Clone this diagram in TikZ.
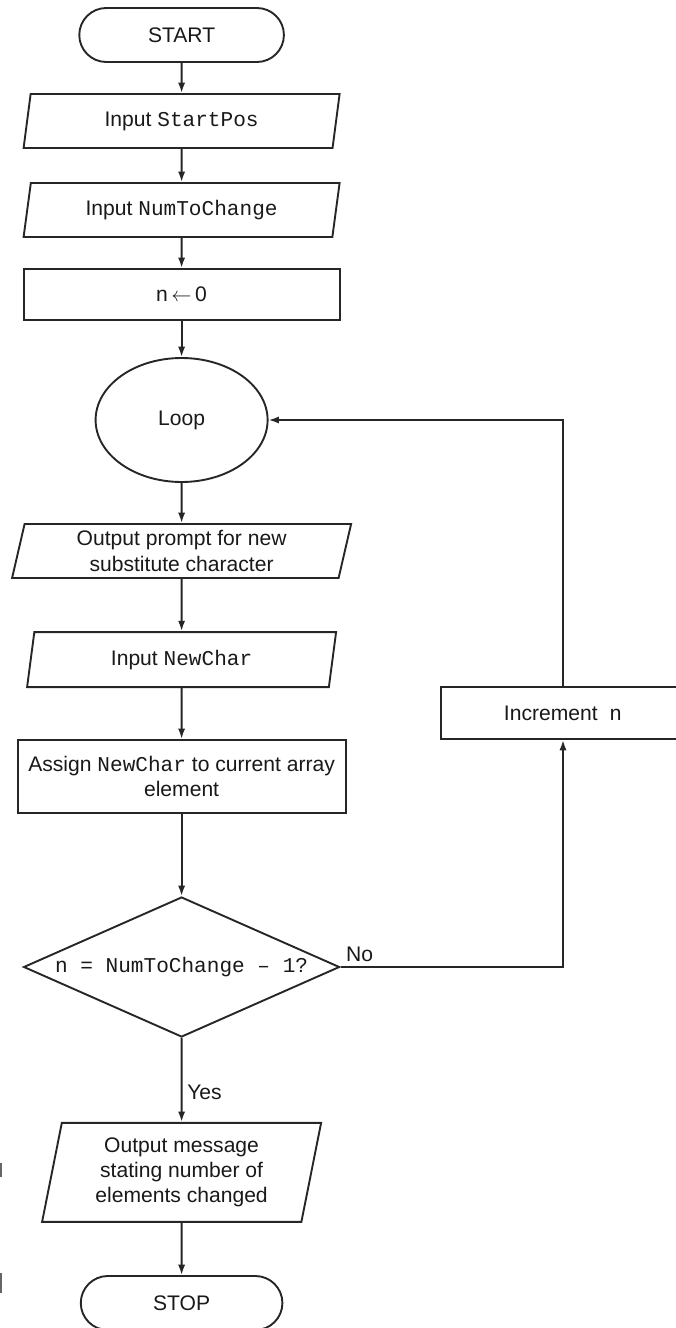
\documentclass[tikz,border=0pt]{standalone}
\usepackage{fontspec}
\setmainfont{Liberation Sans}
\setmonofont{Liberation Mono}
\usetikzlibrary{shapes.geometric,shapes.misc,arrows.meta}
\begin{document}
\begin{tikzpicture}[line width=1.35pt, draw=black!85,
	every node/.style={font=\fontsize{15}{18}\selectfont, align=center, text=black!90},
	term/.style={draw, rounded rectangle, minimum width=5.35cm, minimum height=1.35cm},
	io/.style={draw, trapezium, trapezium left angle=76, trapezium right angle=104, trapezium stretches body, minimum height=1.35cm},
	proc/.style={draw, rectangle, minimum height=1.3cm},
	dec/.style={draw, diamond, aspect=2.26, inner sep=0pt, minimum width=7.9cm, minimum height=3.5cm},
	flow/.style={-{Latex[length=0.26cm,width=0.18cm]}}]
				\useasboundingbox (0,0) rectangle (16.875,-33.2);
				\node[term] (start) at (4.54,-0.875) {START};
				\node[io, minimum width=7.9cm] (in1) at (4.54,-3.025) {Input \texttt{StartPos}};
				\node[io, minimum width=7.9cm] (in2) at (4.54,-5.25) {Input \texttt{NumToChange}};
				\node[proc, minimum width=7.9cm, minimum height=1.275cm] (init) at (4.54,-7.36) {n\,$\leftarrow$\,0};
				\node[draw, ellipse, minimum width=4.3cm, minimum height=3.1cm] (loop) at (4.54,-10.5) {Loop};
				\node[io, minimum width=8.475cm] (prompt) at (4.54,-13.775) {Output prompt for new\\substitute character};
				\node[io, minimum width=7.725cm, minimum height=1.375cm] (in3) at (4.54,-16.49) {Input \texttt{NewChar}};
				\node[proc, minimum width=8.2cm, minimum height=1.825cm] (assign) at (4.54,-19.41) {Assign \texttt{NewChar} to current array\\element};
				\node[dec] (check) at (4.54,-24.175) {\texttt{n = NumToChange – 1?}};
				\node[io, minimum width=6.975cm, minimum height=2.475cm] (outmsg) at (4.54,-29.31) {Output message\\stating number of\\elements changed};
				\node[term, minimum width=5.275cm] (stop) at (4.54,-32.575) {STOP};
				\node[proc, minimum width=6.1cm] (inc) at (14.075,-17.825) {Increment\ \ \texttt{n}};
				\draw[flow] (start) -- (in1);
				\draw[flow] (in1) -- (in2);
				\draw[flow] (in2) -- (init);
				\draw[flow] (init) -- (loop);
				\draw[flow] (loop) -- (prompt);
				\draw[flow] (prompt) -- (in3);
				\draw[flow] (in3) -- (assign);
				\draw[flow] (assign) -- (check);
				\draw[flow] (check) -- node[right, pos=0.65] {Yes} (outmsg);
				\draw[flow] (outmsg) -- (stop);
				\draw[flow] (check.east) node[above right] {No} -| (inc.south);
				\draw[flow] (inc.north) |- (loop.east);
				\draw[line width=1.5pt, black!60] (0.02,-29.07) -- (0.02,-29.43) (0.02,-31.82) -- (0.02,-32.33);
			\end{tikzpicture}
\end{document}
